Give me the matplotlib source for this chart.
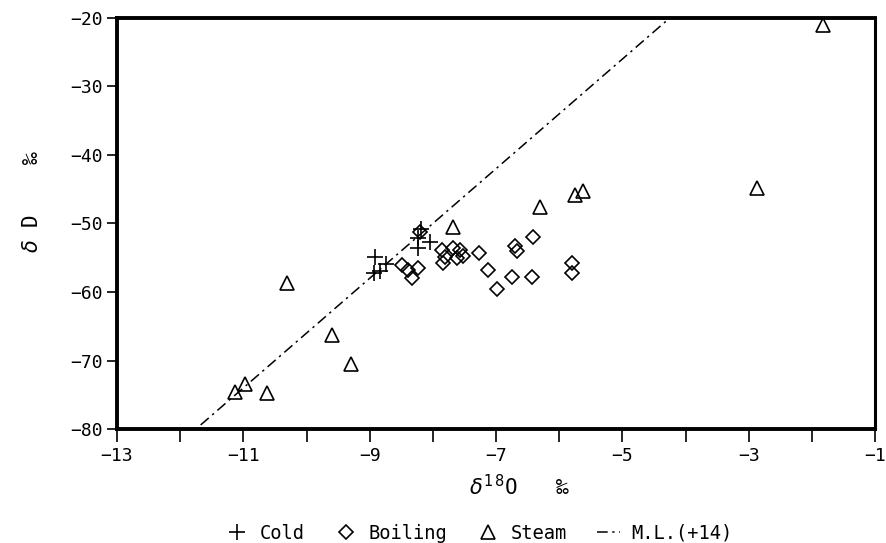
import numpy as np
import matplotlib
matplotlib.use("Agg")
import matplotlib.pyplot as plt

# isotope data, d18O (x) and dD (y), permil
cold_x = [-8.92, -8.74, -8.93, -8.84, -8.19, -8.24, -8.05, -8.24]
cold_y = [-54.9, -55.9, -57.2, -56.9, -50.8, -52.1, -52.7, -53.6]

boil_x = [-8.49, -8.40, -8.24, -8.33, -8.21, -7.86, -7.68, -7.57, -7.81, -7.84,
          -7.62, -7.53, -7.27, -7.13, -6.99, -6.75, -6.43, -6.70, -6.67, -6.42,
          -5.80, -5.80]
boil_y = [-56.1, -56.8, -56.5, -58.0, -51.2, -53.9, -53.6, -53.9, -54.9, -55.8,
          -55.0, -54.7, -54.3, -56.8, -59.6, -57.8, -57.8, -53.3, -54.0, -52.0,
          -55.8, -57.2]

steam_x = [-1.83, -2.87, -5.75, -5.63, -6.31, -7.68, -10.31, -9.60, -9.30,
           -10.63, -11.13, -10.97]
steam_y = [-21.0, -44.8, -45.8, -45.3, -47.6, -50.5, -58.7, -66.3, -70.5,
           -74.7, -74.6, -73.4]

# meteoric line dD = 8 d18O + 14
ml_slope = 8
ml_icept = 14

mono = "DejaVu Sans Mono"
plt.rcParams["font.family"] = mono

fig = plt.figure(figsize=(8.87, 5.43), dpi=100)
ax = fig.add_axes([0.1319, 0.2099, 0.8546, 0.757])

lx = np.array([-13.0, -1.0])
ax.plot(lx, ml_slope * lx + ml_icept, color="black", lw=1.1,
        dashes=(7, 3, 1.5, 3), label="M.L.(+14)")

mk = dict(linestyle="none", markerfacecolor="none", markeredgecolor="black",
          markeredgewidth=1.2)
ax.plot(cold_x, cold_y, marker="+", markersize=11, color="black",
        linestyle="none", markeredgewidth=1.2, label="Cold")
ax.plot(boil_x, boil_y, marker="D", markersize=7.5, label="Boiling", **mk)
ax.plot(steam_x, steam_y, marker="^", markersize=10, label="Steam", **mk)

ax.set_xlim(-13, -1)
ax.set_ylim(-80, -20)

ax.set_xticks(range(-13, 0))
ax.set_xticklabels([f"\u2212{abs(v)}" if v % 2 else "" for v in range(-13, 0)])
ax.set_yticks(range(-80, -19, 10))
ax.set_yticklabels([f"\u2212{abs(v)}" for v in range(-80, -19, 10)])
ax.tick_params(axis="x", direction="out", length=9, width=1.2, labelsize=13, pad=4)
ax.tick_params(axis="y", direction="out", length=7, width=1.2, labelsize=13, pad=3)

for side in ["top", "left", "bottom"]:
    ax.spines[side].set_linewidth(2.8)
ax.spines["right"].set_linewidth(2.2)

fig.text(0.586, 0.103, r"$\delta^{1\,8}$O   ‰", ha="center", va="center",
         fontsize=15)
fig.text(0.036, 0.628, r"$\delta$ D    ‰", ha="center", va="center",
         rotation=90, fontsize=15)

h, l = ax.get_legend_handles_labels()
order = [1, 2, 3, 0]
fig.legend([h[i] for i in order], [l[i] for i in order],
           loc="center", bbox_to_anchor=(0.54, 0.018), ncol=4, frameon=False,
           handlelength=1.2, handletextpad=0.6, columnspacing=1.6,
           prop={"family": mono, "size": 13.5})

fig.savefig("out.png", dpi=100)
